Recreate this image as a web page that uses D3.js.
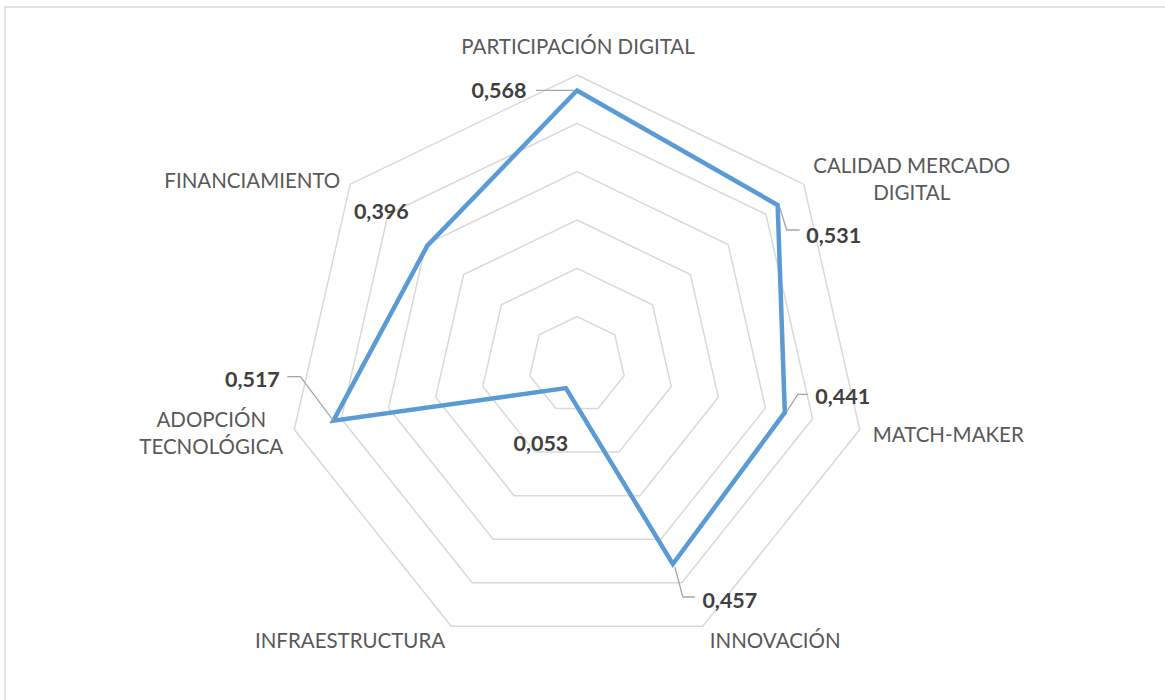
<!DOCTYPE html>
<html lang="es">
<head>
<meta charset="UTF-8">
<title>Radar</title>
<style>
  body { margin: 0; background: #fff; }
  svg { display: block; }
</style>
</head>
<body>
<svg id="chart"></svg>
<script src="https://d3js.org/d3.v7.min.js"></script>
<script>
// datos
const categories = [
  ['PARTICIPACIÓN DIGITAL'],
  ['CALIDAD MERCADO', 'DIGITAL'],
  ['MATCH-MAKER'],
  ['INNOVACIÓN'],
  ['INFRAESTRUCTURA'],
  ['ADOPCIÓN', 'TECNOLÓGICA'],
  ['FINANCIAMIENTO']
];
const values = [0.568, 0.531, 0.441, 0.457, 0.053, 0.517, 0.396];
const ringTicks = [0.1, 0.2, 0.3, 0.4, 0.5, 0.6];

// posiciones de etiquetas (px, relativas)
const catLayout = [
  { dx: 1, dy: -28, anchor: 'middle' },
  { dx: 108, dy: -19, anchor: 'middle' },
  { dx: 13, dy: 5, anchor: 'start' },
  { dx: 7, dy: 14, anchor: 'start' },
  { dx: -6, dy: 14, anchor: 'end' },
  { dx: -83, dy: -10, anchor: 'middle' },
  { dx: -10, dy: -4, anchor: 'end' }
];
const valLayout = [
  { dx: -78, dy: 0, leader: [[-3, 0], [-41, 0]] },
  { dx: 56, dy: 30, leader: [[2, 2], [9, 25], [22, 25]] },
  { dx: 58, dy: -16, leader: [[2, -1], [13, -18], [23, -18]] },
  { dx: 57, dy: 36, leader: [[2, 3], [10, 33], [22, 33]] },
  { dx: -25, dy: 55, leader: null },
  { dx: -81, dy: -41, leader: [[0, 0], [-33, -44], [-46, -44]] },
  { dx: -46, dy: -34, leader: null }
];

const W = 1165, H = 700;
const cx = 577, cy = 365, R = 290;
const svg = d3.select('#chart').attr('width', W).attr('height', H);

// borde
svg.append('rect')
  .attr('x', 5).attr('y', 7)
  .attr('width', W + 10).attr('height', H + 10)
  .attr('fill', 'none').attr('stroke', '#d9d9d9').attr('stroke-width', 1.5);

const n = categories.length;
const angle = d3.scaleLinear().domain([0, n]).range([0, 2 * Math.PI]);
const r = d3.scaleLinear().domain([0, 0.6]).range([0, R]);
const pt = (i, v) => [cx + r(v) * Math.sin(angle(i)), cy - r(v) * Math.cos(angle(i))];
const idx = d3.range(n);

// anillos
svg.append('g').selectAll('path')
  .data(ringTicks)
  .join('path')
  .attr('d', t => d3.line()(idx.map(i => pt(i, t))) + 'Z')
  .attr('fill', 'none')
  .attr('stroke', '#d9d9d9')
  .attr('stroke-width', 1.5);

// serie
svg.append('path')
  .attr('d', d3.line()(values.map((v, i) => pt(i, v))) + 'Z')
  .attr('fill', 'none')
  .attr('stroke', '#5b9bd5')
  .attr('stroke-width', 4.5)
  .attr('stroke-linejoin', 'miter');

// etiquetas de categorias
const catG = svg.append('g')
  .attr('font-family', 'Lato, "Open Sans", sans-serif')
  .attr('font-size', 20.5)
  .attr('fill', '#595959');
categories.forEach((lines, i) => {
  const [x, y] = pt(i, 0.6);
  const L = catLayout[i];
  const t = catG.append('text')
    .attr('text-anchor', L.anchor)
    .attr('x', x + L.dx)
    .attr('y', y + L.dy);
  lines.forEach((s, k) => {
    t.append('tspan').attr('x', x + L.dx).attr('dy', k === 0 ? '0.36em' : 27).text(s);
  });
});

// etiquetas de valores
const fmt = v => d3.format('.3f')(v).replace('.', ',');
const valG = svg.append('g');
values.forEach((v, i) => {
  const [x, y] = pt(i, v);
  const L = valLayout[i];
  if (L.leader) {
    valG.append('path')
      .attr('d', d3.line()(L.leader.map(p => [x + p[0], y + p[1]])))
      .attr('fill', 'none')
      .attr('stroke', '#a6a6a6')
      .attr('stroke-width', 1.3);
  }
  valG.append('text')
    .attr('x', x + L.dx)
    .attr('y', y + L.dy)
    .attr('dy', '0.36em')
    .attr('text-anchor', 'middle')
    .attr('font-family', 'Lato, "Open Sans", sans-serif')
    .attr('font-weight', 'bold')
    .attr('font-size', 21.5)
    .attr('fill', '#404040')
    .text(fmt(v));
});
</script>
</body>
</html>
